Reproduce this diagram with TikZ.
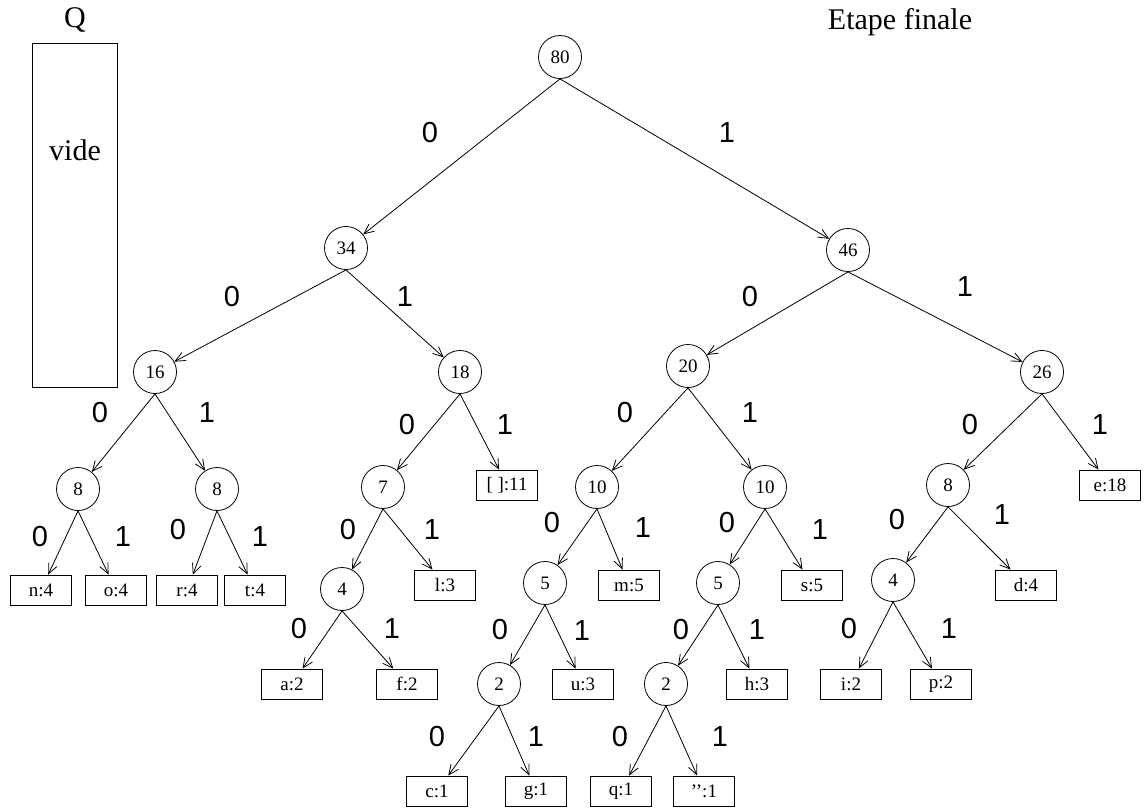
\documentclass[tikz,border=0pt]{standalone}
\usepackage{fontspec}
\setmainfont{Liberation Serif}
\newfontfamily\helv{Liberation Sans}
\usetikzlibrary{arrows.meta}
\begin{document}
\begin{tikzpicture}[x=1pt,y=-1pt,
  cnode/.style={draw,circle,minimum size=43pt,inner sep=0pt,line width=0.8pt,font=\fontsize{19}{19}\selectfont},
  bnode/.style={draw,rectangle,minimum width=61pt,minimum height=30pt,inner sep=0pt,line width=0.9pt,font=\fontsize{19}{19}\selectfont},
  bit/.style={font=\helv\fontsize{29}{29}\selectfont,inner sep=0pt},
  big/.style={font=\fontsize{30}{30}\selectfont,inner sep=0pt},
  edge/.style={line width=0.8pt,-{Straight Barb[length=10pt,width=9pt,line width=0.8pt]}}]
\useasboundingbox (0,0) rectangle (1145,809);
% queue box
\node[big] (qlab) at (75,20) {Q};
\node[draw,rectangle,line width=0.9pt,minimum width=85pt,minimum height=344pt,inner sep=0pt] (qbox) at (74.5,215) {};
\node[big] (vide) at (75,150) {vide};
\node[big] (title) at (900,22) {Etape finale};
% internal nodes
\node[cnode] (n80) at (560,57) {80};
\node[cnode] (n34) at (346,248) {34};
\node[cnode] (n46) at (848,250) {46};
\node[cnode] (n16) at (155,372) {16};
\node[cnode] (n18) at (460,372) {18};
\node[cnode] (n20) at (688,366) {20};
\node[cnode] (n26) at (1042,372) {26};
\node[cnode] (n8a) at (78,489) {8};
\node[cnode] (n8b) at (217,489) {8};
\node[cnode] (n7) at (383,487) {7};
\node[cnode] (n10a) at (597,487) {10};
\node[cnode] (n10b) at (765,487) {10};
\node[cnode] (n8c) at (948,485) {8};
\node[cnode] (n4a) at (342,589) {4};
\node[cnode] (n5a) at (545,583) {5};
\node[cnode] (n5b) at (718,583) {5};
\node[cnode] (n4b) at (893,580) {4};
\node[cnode] (n2a) at (499,684) {2};
\node[cnode] (n2b) at (666,684) {2};
% leaves
\node[bnode] (lsp) at (507,485) {[ ]:11};
\node[bnode] (le) at (1110,485) {e:18};
\node[bnode] (ln) at (41,590) {n:4};
\node[bnode] (lo) at (116,590) {o:4};
\node[bnode] (lr) at (187,590) {r:4};
\node[bnode] (lt) at (255,590) {t:4};
\node[bnode] (ll) at (445,585) {l:3};
\node[bnode] (lm) at (629,585) {m:5};
\node[bnode] (ls) at (812,585) {s:5};
\node[bnode] (ld) at (1026,585) {d:4};
\node[bnode] (la) at (292,684) {a:2};
\node[bnode] (lf) at (407,684) {f:2};
\node[bnode] (lu) at (583,684) {u:3};
\node[bnode] (lh) at (757,684) {h:3};
\node[bnode] (li) at (851,684) {i:2};
\node[bnode] (lp) at (941,684) {p:2};
\node[bnode] (lc) at (437,791) {c:1};
\node[bnode] (lg) at (536,791) {g:1};
\node[bnode] (lq) at (621,791) {q:1};
\node[bnode] (lqq) at (704,791) {{'}{'}:1};
% edges
\foreach \p/\c in {n80/n34,n80/n46,n34/n16,n34/n18,n46/n20,n46/n26,
  n16/n8a,n16/n8b,n18/n7,n18/lsp,n20/n10a,n20/n10b,n26/n8c,n26/le,
  n8a/ln,n8a/lo,n8b/lr,n8b/lt,n7/n4a,n7/ll,n10a/n5a,n10a/lm,n10b/n5b,n10b/ls,
  n8c/n4b,n8c/ld,n4a/la,n4a/lf,n5a/n2a,n5a/lu,n5b/n2b,n5b/lh,n4b/li,n4b/lp,
  n2a/lc,n2a/lg,n2b/lq,n2b/lqq}
  \draw[edge] (\p.south) -- (\c);
% bit labels
\foreach \n/\x/\y/\t in {b1/430/133/0,b2/727/133/1,b3/232/297/0,b4/405/297/1,
  b5/750/297/0,b6/965/287/1,b7/100/413/0,b8/207/413/1,b9/407/425/0,b10/505/425/1,
  b11/625/413/0,b12/750/413/1,b13/970/425/0,b14/1100/425/1,
  b15/40/537/0,b16/123/537/1,b17/178/530/0,b18/260/537/1,
  b19/348/530/0,b20/432/530/1,b21/552/523/0,b22/643/528/1,
  b23/727/523/0,b24/820/530/1,b25/897/520/0,b26/1002/515/1,
  b27/299/629/0,b28/392/629/1,b29/500/630/0,b30/582/631/1,
  b31/681/630/0,b32/757/630/1,b33/849/629/0,b34/949/629/1,
  b35/437/737/0,b36/536/737/1,b37/620/737/0,b38/720/737/1}
  \node[bit] (\n) at (\x,\y) {\t};
\end{tikzpicture}
\end{document}
